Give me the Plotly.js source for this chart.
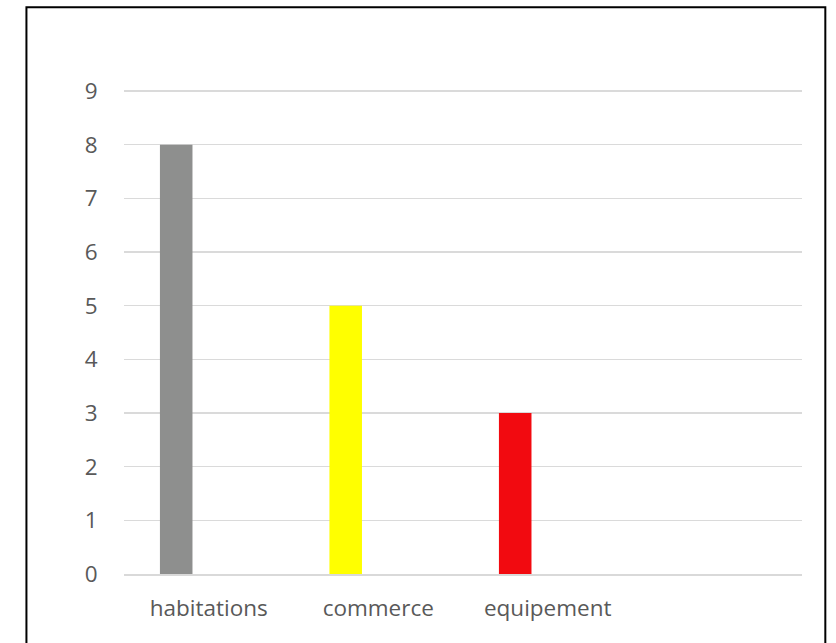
<!DOCTYPE html>
<html>
<head>
<meta charset="utf-8">
<script src="https://cdn.plot.ly/plotly-3.0.1.min.js"></script>
<style>html,body{margin:0;padding:0;background:#fff;}#chart{width:836px;height:643px;}</style>
</head>
<body>
<div id="chart"></div>
<script>
var categories = ["habitations", "commerce", "equipement"];
var values = [8, 5, 3];
var barColors = ["#8E8F8E", "#FFFF00", "#F20A10"];
var yTicks = [0, 1, 2, 3, 4, 5, 6, 7, 8, 9];

var trace = {
  type: "bar",
  x: categories,
  y: values,
  marker: {color: barColors, line: {width: 0}},
  width: 0.192,
  offset: -0.288,
  hoverinfo: "x+y"
};

var layout = {
  width: 836,
  height: 643,
  margin: {l: 124, r: 34, t: 90, b: 69},
  paper_bgcolor: "#ffffff",
  plot_bgcolor: "#ffffff",
  showlegend: false,
  font: {family: "Open Sans, sans-serif", color: "#595959", size: 22.5},
  xaxis: {
    type: "category",
    range: [-0.5, 3.5],
    showgrid: false,
    zeroline: false,
    showline: true,
    linecolor: "#d9d9d9",
    linewidth: 1.5,
    ticks: "outside",
    ticklen: 13,
    tickcolor: "rgba(0,0,0,0)",
    tickfont: {size: 22.5, color: "#595959"},
    fixedrange: true
  },
  yaxis: {
    range: [0, 9.02],
    tickvals: yTicks,
    showgrid: true,
    gridcolor: "#dadada",
    gridwidth: 1.2,
    zeroline: false,
    showline: false,
    ticks: "outside",
    ticklen: 21,
    tickcolor: "rgba(0,0,0,0)",
    tickfont: {size: 22.5, color: "#595959"},
    fixedrange: true
  },
  shapes: [{
    type: "rect",
    xref: "paper", yref: "paper",
    x0: -0.1439, x1: 1.0344,
    y0: -0.16, y1: 1.171,
    line: {color: "#000000", width: 2},
    fillcolor: "rgba(0,0,0,0)",
    layer: "above"
  }]
};

Plotly.newPlot("chart", [trace], layout, {displayModeBar: false, staticPlot: true});
</script>
</body>
</html>
